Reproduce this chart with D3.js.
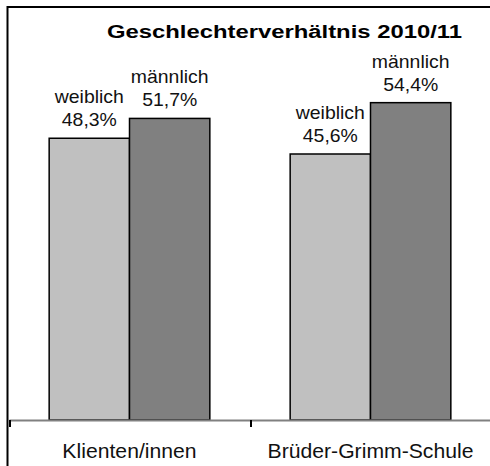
<!DOCTYPE html>
<html>
<head>
<meta charset="utf-8">
<script src="https://cdn.jsdelivr.net/npm/d3@7"></script>
<style>
	body { margin: 0; background: #fff; overflow: hidden; }
	svg { display: block; font-family: Arial, "Liberation Sans", sans-serif; }
</style>
</head>
<body>
<svg></svg>
<script>
const title = 'Geschlechterverhältnis 2010/11';
const categories = ['Klienten/innen', 'Brüder-Grimm-Schule'];
const seriesNames = ['weiblich', 'männlich'];
const weiblich = [48.3, 45.6];
const maennlich = [51.7, 54.4];
const seriesColors = ['#c0c0c0', '#808080'];

function fmt(v) {
	return v.toFixed(1).replace('.', ',') + '%';
}

function makeChart() {
	const svg = d3.select('svg');
	svg.attr('width', 490).attr('height', 466);

	const rows = categories.map((c, i) => ({cat: c, values: [weiblich[i], maennlich[i]]}));

	const x = d3.scaleBand().domain(categories).range([9, 491]);
	const xs = d3.scaleBand().domain(seriesNames).range([0, x.bandwidth()]).paddingOuter(0.5);
	const y = d3.scaleLinear().domain([0, 60]).range([420, 70]);

	// frame (only top and left edges are inside the picture)
	svg.append('path')
		.attr('d', 'M7.5,466V7H490')
		.attr('fill', 'none')
		.attr('stroke', '#000')
		.attr('stroke-width', 2);

	svg.append('text')
		.attr('x', 284.5).attr('y', 38)
		.attr('text-anchor', 'middle')
		.attr('font-size', 18)
		.attr('font-weight', 'bold')
		.attr('textLength', 355)
		.attr('lengthAdjust', 'spacingAndGlyphs')
		.text(title);

	const groups = svg.selectAll('g.group').data(rows)
		.enter().append('g')
		.attr('class', 'group')
		.attr('transform', d => 'translate(' + x(d.cat) + ',0)');

	const bars = groups.selectAll('g.bar')
		.data(d => d.values.map((v, i) => ({name: seriesNames[i], value: v, color: seriesColors[i]})))
		.enter().append('g')
		.attr('class', 'bar');

	bars.append('rect')
		.attr('x', d => xs(d.name))
		.attr('y', d => y(d.value))
		.attr('width', xs.bandwidth())
		.attr('height', d => y(0) - y(d.value))
		.attr('fill', d => d.color)
		.attr('stroke', '#000')
		.attr('stroke-width', 1.5);

	const lab = bars.append('text')
		.attr('text-anchor', 'middle')
		.attr('font-size', 18)
		.attr('fill', '#111')
		.attr('transform', d => 'translate(' + (xs(d.name) + xs.bandwidth() / 2) + ',' + (y(d.value) - 12) + ') scale(1.08,1)');
	lab.append('tspan').attr('x', 0).attr('dy', -23).text(d => d.name);
	lab.append('tspan').attr('x', 0).attr('dy', 23).text(d => fmt(d.value));

	// axis
	const axis = svg.append('g')
		.attr('transform', 'translate(0,420)')
		.call(d3.axisBottom(x).tickSize(0).tickSizeOuter(0).tickPadding(24));
	axis.select('.domain').attr('stroke', '#808080').attr('stroke-width', 2);
	axis.selectAll('.tick text')
		.attr('font-size', 20)
		.attr('font-family', 'Arial, "Liberation Sans", sans-serif')
		.attr('fill', '#111')
		.attr('transform', 'scale(1.06,1)')
		.attr('x', function(d) { return 0; });
	axis.selectAll('.tick').attr('transform', d => 'translate(' + (x(d) + x.bandwidth() / 2) + ',0)');

	axis.selectAll('line.sep').data(categories)
		.enter().append('line')
		.attr('class', 'sep')
		.attr('x1', d => x(d) + 1).attr('x2', d => x(d) + 1)
		.attr('y1', 0).attr('y2', 7)
		.attr('stroke', '#000')
		.attr('stroke-width', 2);
}

makeChart();
</script>
</body>
</html>
